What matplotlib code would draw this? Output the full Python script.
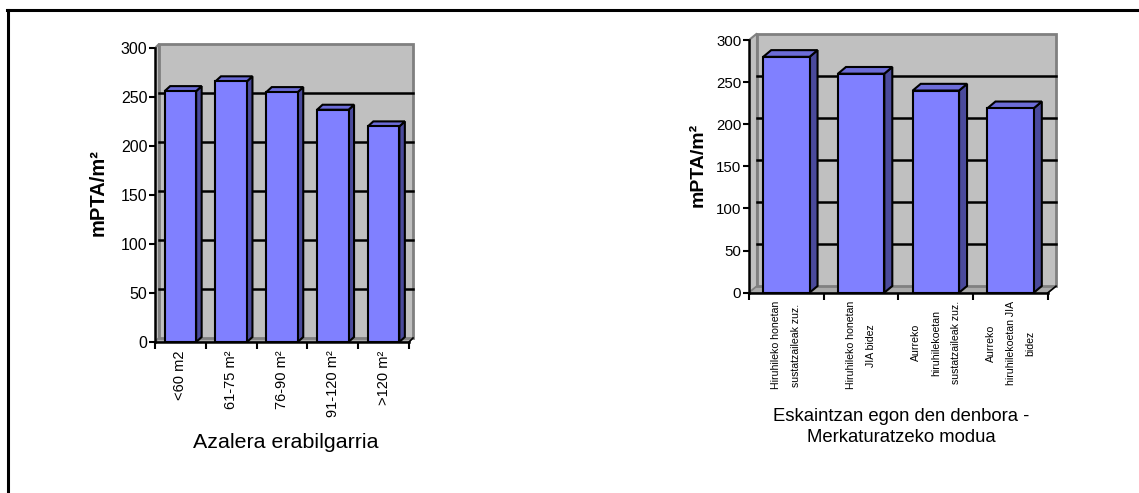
import matplotlib
matplotlib.use("Agg")
import matplotlib.pyplot as plt
from matplotlib.patches import Polygon
from matplotlib.lines import Line2D

plt.rcParams['font.family'] = ['Liberation Sans', 'DejaVu Sans']

W, H = 1139, 493

# Azalera erabilgarria
area_labels = ["<60 m2", "61-75 m\u00b2", "76-90 m\u00b2", "91-120 m\u00b2", ">120 m\u00b2"]
area_values = [256, 266, 255, 237, 220]

# Eskaintzan egon den denbora - Merkaturatzeko modua
mode_labels = ["Hiruhileko honetan\nsustatzaileak zuz.",
               "Hiruhileko honetan\nJIA bidez",
               "Aurreko\nhiruhilekoetan\nsustatzaileak zuz.",
               "Aurreko\nhiruhilekoetan JIA\nbidez"]
mode_values = [280, 260, 240, 219]

y_ticks = [0, 50, 100, 150, 200, 250, 300]

FRONT = "#8080FF"
SIDE = "#4A4A9C"
TOP = "#6C6CD8"
WALL = "#C0C0C0"
FLOOR = "#AAAAAA"
EDGE = "#808080"


def bar3d_chart(fig, left, right, y0, y300, labels, values, depth, bar_depth,
                tick_size, label_size, label_spacing=1.2, width=0.62):
    n = len(values)
    ppx = (right - left) / n          # pixels per category
    ppy = (y0 - y300) / 300.0         # pixels per unit
    dx, dy = depth[0] / ppx, depth[1] / ppy
    bx, by = bar_depth[0] / ppx, bar_depth[1] / ppy
    xmin, xmax = -0.5, n - 0.5
    xlim = (xmin, xmax + dx + 0.06)
    ylim = (0, 300 + dy + 3)

    ax_w = (xlim[1] - xlim[0]) * ppx
    ax_h = (ylim[1] - ylim[0]) * ppy
    ax = fig.add_axes([left / W, 1 - y0 / H, ax_w / W, ax_h / H])
    ax.set_xlim(*xlim)
    ax.set_ylim(*ylim)
    ax.patch.set_visible(False)
    for s in ax.spines.values():
        s.set_visible(False)

    # side wall, floor and back wall
    ax.add_patch(Polygon([(xmin, 0), (xmin + dx, dy), (xmin + dx, 300 + dy), (xmin, 300)],
                         closed=True, fc=WALL, ec=EDGE, lw=1.5, zorder=1))
    ax.add_patch(Polygon([(xmin, 0), (xmax, 0), (xmax + dx, dy), (xmin + dx, dy)],
                         closed=True, fc=FLOOR, ec=EDGE, lw=1.0, zorder=1))
    ax.add_patch(Polygon([(xmin + dx, dy), (xmax + dx, dy), (xmax + dx, 300 + dy), (xmin + dx, 300 + dy)],
                         closed=True, fc=WALL, ec=EDGE, lw=2.0, zorder=1))

    # gridlines on the back wall
    for t in y_ticks[1:-1]:
        ax.add_line(Line2D([xmin + dx, xmax + dx], [t + dy, t + dy], color="black", lw=1.8, zorder=2))

    # bars
    for i, v in enumerate(values):
        x0, x1 = i - width / 2, i + width / 2
        ax.add_patch(Polygon([(x1, 0), (x1 + bx, by), (x1 + bx, v + by), (x1, v)],
                             closed=True, fc=SIDE, ec="black", lw=1.5, zorder=3))
        ax.add_patch(Polygon([(x0, v), (x1, v), (x1 + bx, v + by), (x0 + bx, v + by)],
                             closed=True, fc=TOP, ec="black", lw=1.5, zorder=3))
        ax.add_patch(Polygon([(x0, 0), (x1, 0), (x1, v), (x0, v)],
                             closed=True, fc=FRONT, ec="black", lw=1.5, zorder=4))

    # axis lines
    ax.add_line(Line2D([xmin, xmin], [0, 300], color="black", lw=1.8, zorder=5, clip_on=False))
    ax.add_line(Line2D([xmin, xmax], [0, 0], color="black", lw=1.8, zorder=5, clip_on=False))
    ax.add_line(Line2D([xmax, xmax + dx], [0, dy], color="black", lw=1.2, zorder=5, clip_on=False))

    ax.set_yticks(y_ticks)
    ax.set_yticklabels([str(t) for t in y_ticks], fontsize=tick_size)
    ax.tick_params(axis="y", direction="out", length=4, width=1.5, pad=1.5)

    ax.set_xticks([k - 0.5 for k in range(n + 1)])
    ax.set_xticklabels([])
    ax.set_xticks(range(n), minor=True)
    ax.set_xticklabels(labels, minor=True, rotation=90, fontsize=label_size,
                       linespacing=label_spacing, multialignment="center")
    ax.tick_params(axis="x", which="major", direction="out", length=5, width=1.5)
    ax.tick_params(axis="x", which="minor", length=0, pad=6)
    return ax


fig = plt.figure(figsize=(W / 100, H / 100), dpi=100)

ax1 = bar3d_chart(fig, 155, 409, 342, 48, area_labels, area_values,
                  depth=(4, 4), bar_depth=(5.5, 5),
                  tick_size=11.5, label_size=10.5)

ax2 = bar3d_chart(fig, 749, 1048, 292.7, 40, mode_labels, mode_values,
                  depth=(8, 6.5), bar_depth=(8, 6.7),
                  tick_size=10.8, label_size=7.6, label_spacing=2.25)

# y axis titles
fig.text(98 / W, 1 - 193 / H, "mPTA/m\u00b2", fontsize=14.5, fontweight="bold",
         rotation=90, ha="center", va="center")
fig.text(698 / W, 1 - 165 / H, "mPTA/m\u00b2", fontsize=14, fontweight="bold",
         rotation=90, ha="center", va="center")

# x axis titles
fig.text(285.5 / W, 1 - 442 / H, "Azalera erabilgarria", fontsize=15.4, ha="center", va="center")
fig.text(901 / W, 1 - 427 / H, "Eskaintzan egon den denbora -\nMerkaturatzeko modua",
         fontsize=13.3, ha="center", va="center", linespacing=1.25)

# outer frame
fig.add_artist(Line2D([8 / W, 8 / W], [0, 1 - 10 / H], color="black", lw=2.2))
fig.add_artist(Line2D([7 / W, 1138 / W], [1 - 10 / H, 1 - 10 / H], color="black", lw=2.2))

fig.savefig("out.png", dpi=100)
